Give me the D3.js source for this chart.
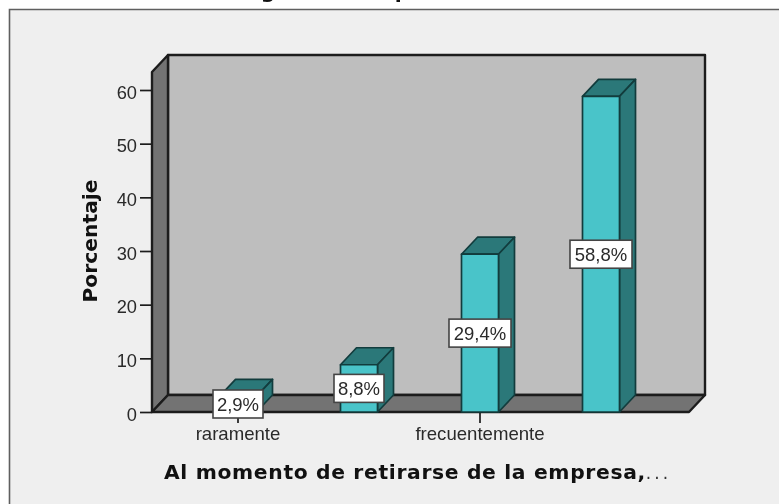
<!DOCTYPE html>
<html><head><meta charset="utf-8">
<script src="https://cdnjs.cloudflare.com/ajax/libs/d3/7.9.0/d3.min.js"></script>
<style>html,body{margin:0;padding:0;background:#fff}svg{display:block;filter:blur(0.35px)}text{font-family:"Liberation Sans",Arial,sans-serif}</style>
</head><body><svg id="c" width="779" height="504"></svg>
<script>
const titleFragments = ["g","p"];
const categories = ["raramente","sin etiqueta 2","frecuentemente","sin etiqueta 4"];
const tickLabels = ["raramente","","frecuentemente",""];
const percentValues = [2.9,8.8,29.4,58.8];
const valueLabels = ["2,9%","8,8%","29,4%","58,8%"];
const yTicks = [0,10,20,30,40,50,60];
const xTitle = "Al momento de retirarse de la empresa,";
const xTitleEnd = "...";
const yTitle = "Porcentaje";

const svg = d3.select("#c");
const dark = "#1c1c1c", wall = "#bebebe", side = "#737373";
const front = "#49c4c9", shade = "#2b7879", textCol = "#2a2a2a";
const dx = 16, dy = 17;
const y = d3.scaleLinear().domain([0,60]).range([412,90]);
const x = d3.scaleBand().domain(categories).range([177.5,661.5]);
const barW = 37;
const cx = d => x(d) + x.bandwidth()/2;
const L = 152, R = 689, B = y(0), T = 72;

svg.append("rect").attr("x",9).attr("y",9).attr("width",770).attr("height",495).attr("fill","#efefef");
svg.append("path").attr("d","M9.5 504V9.5H779").attr("fill","none").attr("stroke","#5f5f5f").attr("stroke-width",1.6);

const title = svg.append("text").attr("y",-2).attr("font-size",20.3).attr("font-weight","bold")
  .style("font-family","DejaVu Sans").attr("fill","#111").attr("text-anchor","middle");
title.selectAll("tspan").data(titleFragments).join("tspan")
  .attr("x",(d,i)=>[268,402][i]).text(d=>d);

const line = d3.line();
function poly(pts, fill, stroke, w){
  svg.append("path").attr("d",line(pts)+"Z").attr("fill",fill).attr("stroke",stroke)
    .attr("stroke-width",w).attr("stroke-linejoin","round");
}
poly([[L+dx,T-dy],[R+dx,T-dy],[R+dx,B-dy],[L+dx,B-dy]],wall,dark,2.4);
poly([[L,T],[L+dx,T-dy],[L+dx,B-dy],[L,B]],side,dark,2.4);
poly([[L,B],[L+dx,B-dy],[R+dx,B-dy],[R,B]],side,dark,2.4);

const yAxis = d3.axisLeft(y).tickValues(yTicks).tickSize(12).tickPadding(3);
const gy = svg.append("g").attr("transform",`translate(${L},0)`).call(yAxis);
gy.select(".domain").remove();
gy.selectAll("line").attr("stroke",dark).attr("stroke-width",1.7);
gy.selectAll("text").attr("font-size",18.3).attr("fill",textCol).attr("dy","0.44em")
  .attr("font-family","Liberation Sans, Arial, sans-serif");

const labelled = categories.filter((c,i)=>tickLabels[i]);
const xAxis = d3.axisBottom(x).tickValues(labelled).tickSize(11).tickPadding(4)
  .tickFormat(d=>tickLabels[categories.indexOf(d)]);
const gx = svg.append("g").attr("transform",`translate(0,${B})`).call(xAxis);
gx.select(".domain").remove();
gx.selectAll("line").attr("stroke",dark).attr("stroke-width",1.7);
gx.selectAll("text").attr("font-size",18.6).attr("fill",textCol)
  .attr("font-family","Liberation Sans, Arial, sans-serif");

categories.forEach((c,i)=>{
  const x0 = cx(c)-barW/2, x1 = x0+barW, y1 = y(percentValues[i]);
  const s = "#123c3d";
  poly([[x0,y1],[x1,y1],[x1+dx,y1-dy],[x0+dx,y1-dy]],shade,s,1.7);
  poly([[x1,y1],[x1+dx,y1-dy],[x1+dx,B-dy],[x1,B]],shade,s,1.7);
  poly([[x0,y1],[x1,y1],[x1,B],[x0,B]],front,s,1.7);
});
categories.forEach((c,i)=>{
  const yc = (y(percentValues[i])+B)/2;
  const w = valueLabels[i].length>4?62:50, h=28;
  const ly = i===0 ? 404 : yc;
  svg.append("rect").attr("x",cx(c)-w/2).attr("y",ly-h/2).attr("width",w).attr("height",h)
    .attr("fill","#fff").attr("stroke","#444").attr("stroke-width",1.6);
  svg.append("text").attr("x",cx(c)).attr("y",ly+6.5).attr("text-anchor","middle")
    .attr("font-size",18.5).attr("fill",textCol).text(valueLabels[i]);
});

const xt = svg.append("text").attr("x",164).attr("y",479)
  .attr("font-size",20.3).attr("font-weight","bold").style("font-family","DejaVu Sans").attr("fill","#111");
xt.append("tspan").attr("letter-spacing",0.66).text(xTitle);
xt.append("tspan").attr("font-weight","normal").attr("font-size",17).attr("letter-spacing",3).attr("fill","#333").text(xTitleEnd);
svg.append("text").attr("transform","translate(96.5,241) rotate(-90)").attr("text-anchor","middle")
  .attr("font-size",20.3).attr("font-weight","bold").style("font-family","DejaVu Sans").attr("fill","#111").text(yTitle);
</script></body></html>
